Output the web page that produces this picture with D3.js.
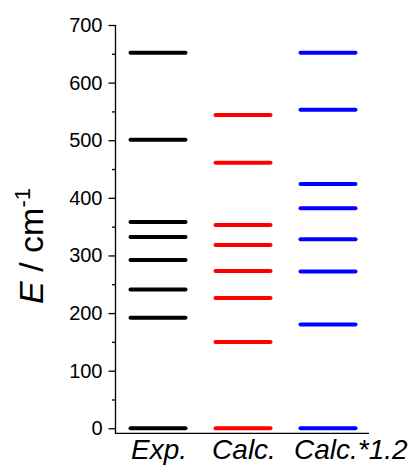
<!DOCTYPE html>
<html><head><meta charset="utf-8">
<script src="https://cdn.jsdelivr.net/npm/d3@7"></script>
<style>
html,body{margin:0;padding:0;background:#fff;}
svg{display:block;font-family:Arial,"Liberation Sans",sans-serif;}
</style></head>
<body>
<svg id="c" width="419" height="466"></svg>
<script>
const categories = ["Exp.", "Calc.", "Calc.*1.2"];
const colors = ["#000000", "#ff0000", "#0000ff"];
const expLevels = [0, 192, 241, 292, 332, 358, 501, 652];
const calcLevels = [0, 150, 226, 273, 318, 353, 461, 544];
const calcScaledLevels = [0, 180, 272, 328, 382, 424, 553, 652];
const series = [expLevels, calcLevels, calcScaledLevels];
const yTicks = [0, 100, 200, 300, 400, 500, 600, 700];
const yMinorTicks = [50, 150, 250, 350, 450, 550, 650];

const svg = d3.select("#c");
const y = d3.scaleLinear().domain([0, 700]).range([428.3, 25]);
const x = d3.scaleBand().domain(categories).range([115.5, 370.5]).padding(0);
const axisX = 115.5;
const bottomY = y(-8.7);

// levels
series.forEach((vals, i) => {
  const cx = x(categories[i]) + x.bandwidth() / 2;
  svg.append("g").selectAll("line").data(vals).join("line")
    .attr("x1", cx - 27.5).attr("x2", cx + 27.5)
    .attr("y1", d => y(d)).attr("y2", d => y(d))
    .attr("stroke", colors[i]).attr("stroke-width", 4)
    .attr("stroke-linecap", "round");
});

// y axis
const yAxis = d3.axisLeft(y).tickValues(yTicks).tickSize(7).tickPadding(6).tickFormat(d3.format("d"));
const gy = svg.append("g").attr("transform", `translate(${axisX},0)`).call(yAxis);
gy.select(".domain").remove();
gy.selectAll(".tick line").attr("stroke", "#000").attr("stroke-width", 1.3);
gy.selectAll(".tick text").attr("font-size", 20).attr("fill", "#000")
  .attr("font-family", "Arial, 'Liberation Sans', sans-serif");
const yMinor = d3.axisLeft(y).tickValues(yMinorTicks).tickSize(3.5).tickFormat("");
const gm = svg.append("g").attr("transform", `translate(${axisX},0)`).call(yMinor);
gm.select(".domain").remove();
gm.selectAll(".tick line").attr("stroke", "#000").attr("stroke-width", 1.3);

// axis frame lines
svg.append("path")
  .attr("d", `M${axisX},${y(700)}V${bottomY}H${x.range()[1] - 1.5}`)
  .attr("fill", "none").attr("stroke", "#000").attr("stroke-width", 1.3);

// x labels
svg.append("g").selectAll("text").data(categories).join("text")
  .attr("x", (d, i) => i === 2 ? 294 : x(d) + x.bandwidth() / 2 + 1)
  .attr("y", 459)
  .attr("text-anchor", (d, i) => i === 2 ? "start" : "middle")
  .attr("font-style", "italic").attr("font-size", 28).attr("fill", "#000")
  .text(d => d);

// y title
const t = svg.append("text")
  .attr("transform", `translate(43,246) rotate(-90)`)
  .attr("text-anchor", "middle").attr("font-size", 34).attr("fill", "#000");
t.append("tspan").attr("font-style", "italic").text("E");
t.append("tspan").text(" / cm");
t.append("tspan").attr("font-size", 22).attr("dy", -13).text("-1");
</script>
</body></html>
